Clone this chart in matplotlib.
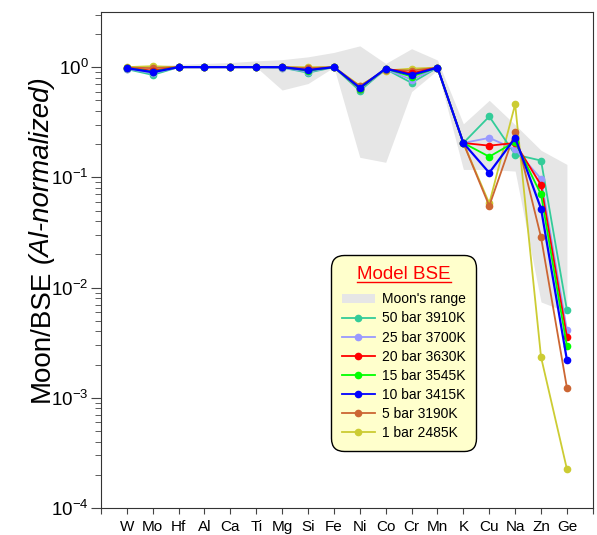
import matplotlib.pyplot as plt
from matplotlib.lines import Line2D
from matplotlib.patches import Patch
import numpy as np

plt.rcParams['font.family'] = ['Liberation Sans', 'DejaVu Sans']
plt.rcParams['mathtext.default'] = 'regular'

elements = ['W', 'Mo', 'Hf', 'Al', 'Ca', 'Ti', 'Mg', 'Si', 'Fe',
            'Ni', 'Co', 'Cr', 'Mn', 'K', 'Cu', 'Na', 'Zn', 'Ge']

# Moon's range (shaded band)
moon_upper = [1.0, 1.02, 1.06, 1.08, 1.10, 1.14, 1.17, 1.24, 1.36,
              1.56, 1.08, 1.47, 1.16, 0.306, 0.50, 0.30, 0.176, 0.131]
moon_lower = [0.98, 0.98, 1.0, 1.0, 1.0, 1.0, 0.62, 0.71, 1.0,
              0.152, 0.137, 0.60, 0.94, 0.118, 0.118, 0.114, 0.0074, 0.0060]

# Model BSE series
bar50 = [0.96, 0.85, 1.0, 1.0, 1.0, 1.0, 0.99, 0.89, 1.0,
         0.61, 0.96, 0.72, 0.99, 0.205, 0.357, 0.161, 0.142, 0.00624]
bar25 = [0.97, 0.88, 1.0, 1.0, 1.0, 1.0, 0.99, 0.91, 1.0,
         0.63, 0.96, 0.77, 0.99, 0.205, 0.228, 0.18, 0.097, 0.0041]
bar20 = [0.98, 0.93, 1.0, 1.0, 1.0, 1.0, 1.0, 0.94, 1.0,
         0.64, 0.97, 0.88, 0.99, 0.205, 0.194, 0.205, 0.085, 0.00356]
bar15 = [0.98, 0.91, 1.0, 1.0, 1.0, 1.0, 1.0, 0.93, 1.0,
         0.64, 0.97, 0.82, 0.99, 0.205, 0.154, 0.21, 0.070, 0.00292]
bar10 = [0.98, 0.90, 1.0, 1.0, 1.0, 1.0, 1.0, 0.94, 1.0,
         0.65, 0.97, 0.85, 0.99, 0.205, 0.110, 0.228, 0.052, 0.0022]
bar5 = [0.99, 0.98, 1.0, 1.0, 1.0, 1.0, 1.0, 0.98, 1.0,
        0.67, 0.95, 0.93, 0.99, 0.205, 0.055, 0.26, 0.0286, 0.00123]
bar1 = [1.0, 1.02, 1.0, 1.0, 1.0, 1.0, 1.0, 1.0, 1.0,
        0.68, 0.93, 0.97, 0.99, 0.205, 0.058, 0.46, 0.00234, 0.000225]

series = [
    ('50 bar 3910K', bar50, '#33CC99'),
    ('25 bar 3700K', bar25, '#9999FF'),
    ('20 bar 3630K', bar20, '#FF0000'),
    ('15 bar 3545K', bar15, '#00FF00'),
    ('10 bar 3415K', bar10, '#0000FF'),
    ('5 bar 3190K', bar5, '#CC6633'),
    ('1 bar 2485K', bar1, '#CCCC33'),
]
# drawing order (bottom to top)
draw_order = ['1 bar 2485K', '5 bar 3190K', '50 bar 3910K', '25 bar 3700K',
              '20 bar 3630K', '15 bar 3545K', '10 bar 3415K']

x = np.arange(1, len(elements) + 1)

fig = plt.figure(figsize=(5.97, 5.35), dpi=100)
ax = fig.add_axes([0.169, 0.0505, 0.824, 0.927])

ax.fill_between(x, moon_lower, moon_upper, color='#E6E6E6', linewidth=0, zorder=1)

lookup = {name: (vals, col) for name, vals, col in series}
for z, name in enumerate(draw_order):
    vals, col = lookup[name]
    lw = 1.6 if name == '10 bar 3415K' else 1.3
    ax.plot(x, vals, '-o', color=col, lw=lw, ms=4.5, mec=col, zorder=2 + z)

ax.set_yscale('log')
ax.set_ylim(1e-4, 10 ** 0.5)
ax.set_xlim(0, 19)
ax.set_xticks(np.arange(0, 20))
ax.set_xticklabels([''] + elements + [''], fontsize=11)
ax.set_yticks([1e-4, 1e-3, 1e-2, 1e-1, 1])
ax.tick_params(axis='y', which='major', direction='out', length=7, labelsize=13.5,
               color='#444444', pad=2)
ax.tick_params(axis='y', which='minor', direction='out', length=4, color='#444444')
ax.tick_params(axis='x', which='major', direction='out', length=4, labelsize=11,
               color='#444444', pad=5)
for s in ax.spines.values():
    s.set_color('#333333')

# y label in two parts
t1 = fig.text(0.070, 0.249, 'Moon/BSE', rotation=90, fontsize=20, ha='center', va='bottom')
fig.canvas.draw()
bb = t1.get_window_extent()
y_top = bb.y1 / fig.bbox.height
fig.text(0.068, y_top + 0.012, '(Al-normalized)', rotation=90, fontsize=20,
         style='italic', ha='center', va='bottom')

# legend
handles = [Patch(facecolor='#E6E6E6', edgecolor='none', label="Moon's range")]
for name, vals, col in series:
    handles.append(Line2D([0], [0], color=col, lw=1.3, marker='o', ms=4.5, label=name))

leg = ax.legend(handles=handles, loc='upper left', bbox_to_anchor=(0.555, 0.523),
                bbox_transform=fig.transFigure, fontsize=10, title='Model BSE',
                title_fontsize=13.5, frameon=True, fancybox=True, numpoints=1,
                handlelength=2.4, handletextpad=0.5, labelspacing=0.37,
                borderpad=0.75, borderaxespad=0)
leg.get_title().set_color('red')
leg._legend_box.sep = 7
frame = leg.get_frame()
frame.set_facecolor('#FFFFCC')
frame.set_edgecolor('black')
frame.set_alpha(1)
frame.set_linewidth(1.0)
frame.set_boxstyle('round,pad=0,rounding_size=0.9')

# underline legend title
fig.canvas.draw()
tb = leg.get_title().get_window_extent()
inv = fig.transFigure.inverted()
(x0, y0), (x1, _) = inv.transform([[tb.x0, tb.y0], [tb.x1, tb.y0]])
fig.add_artist(Line2D([x0, x1], [y0 + 0.002, y0 + 0.002], color='red', lw=1.0,
                      transform=fig.transFigure, zorder=10))

plt.savefig('out.png', dpi=100)
